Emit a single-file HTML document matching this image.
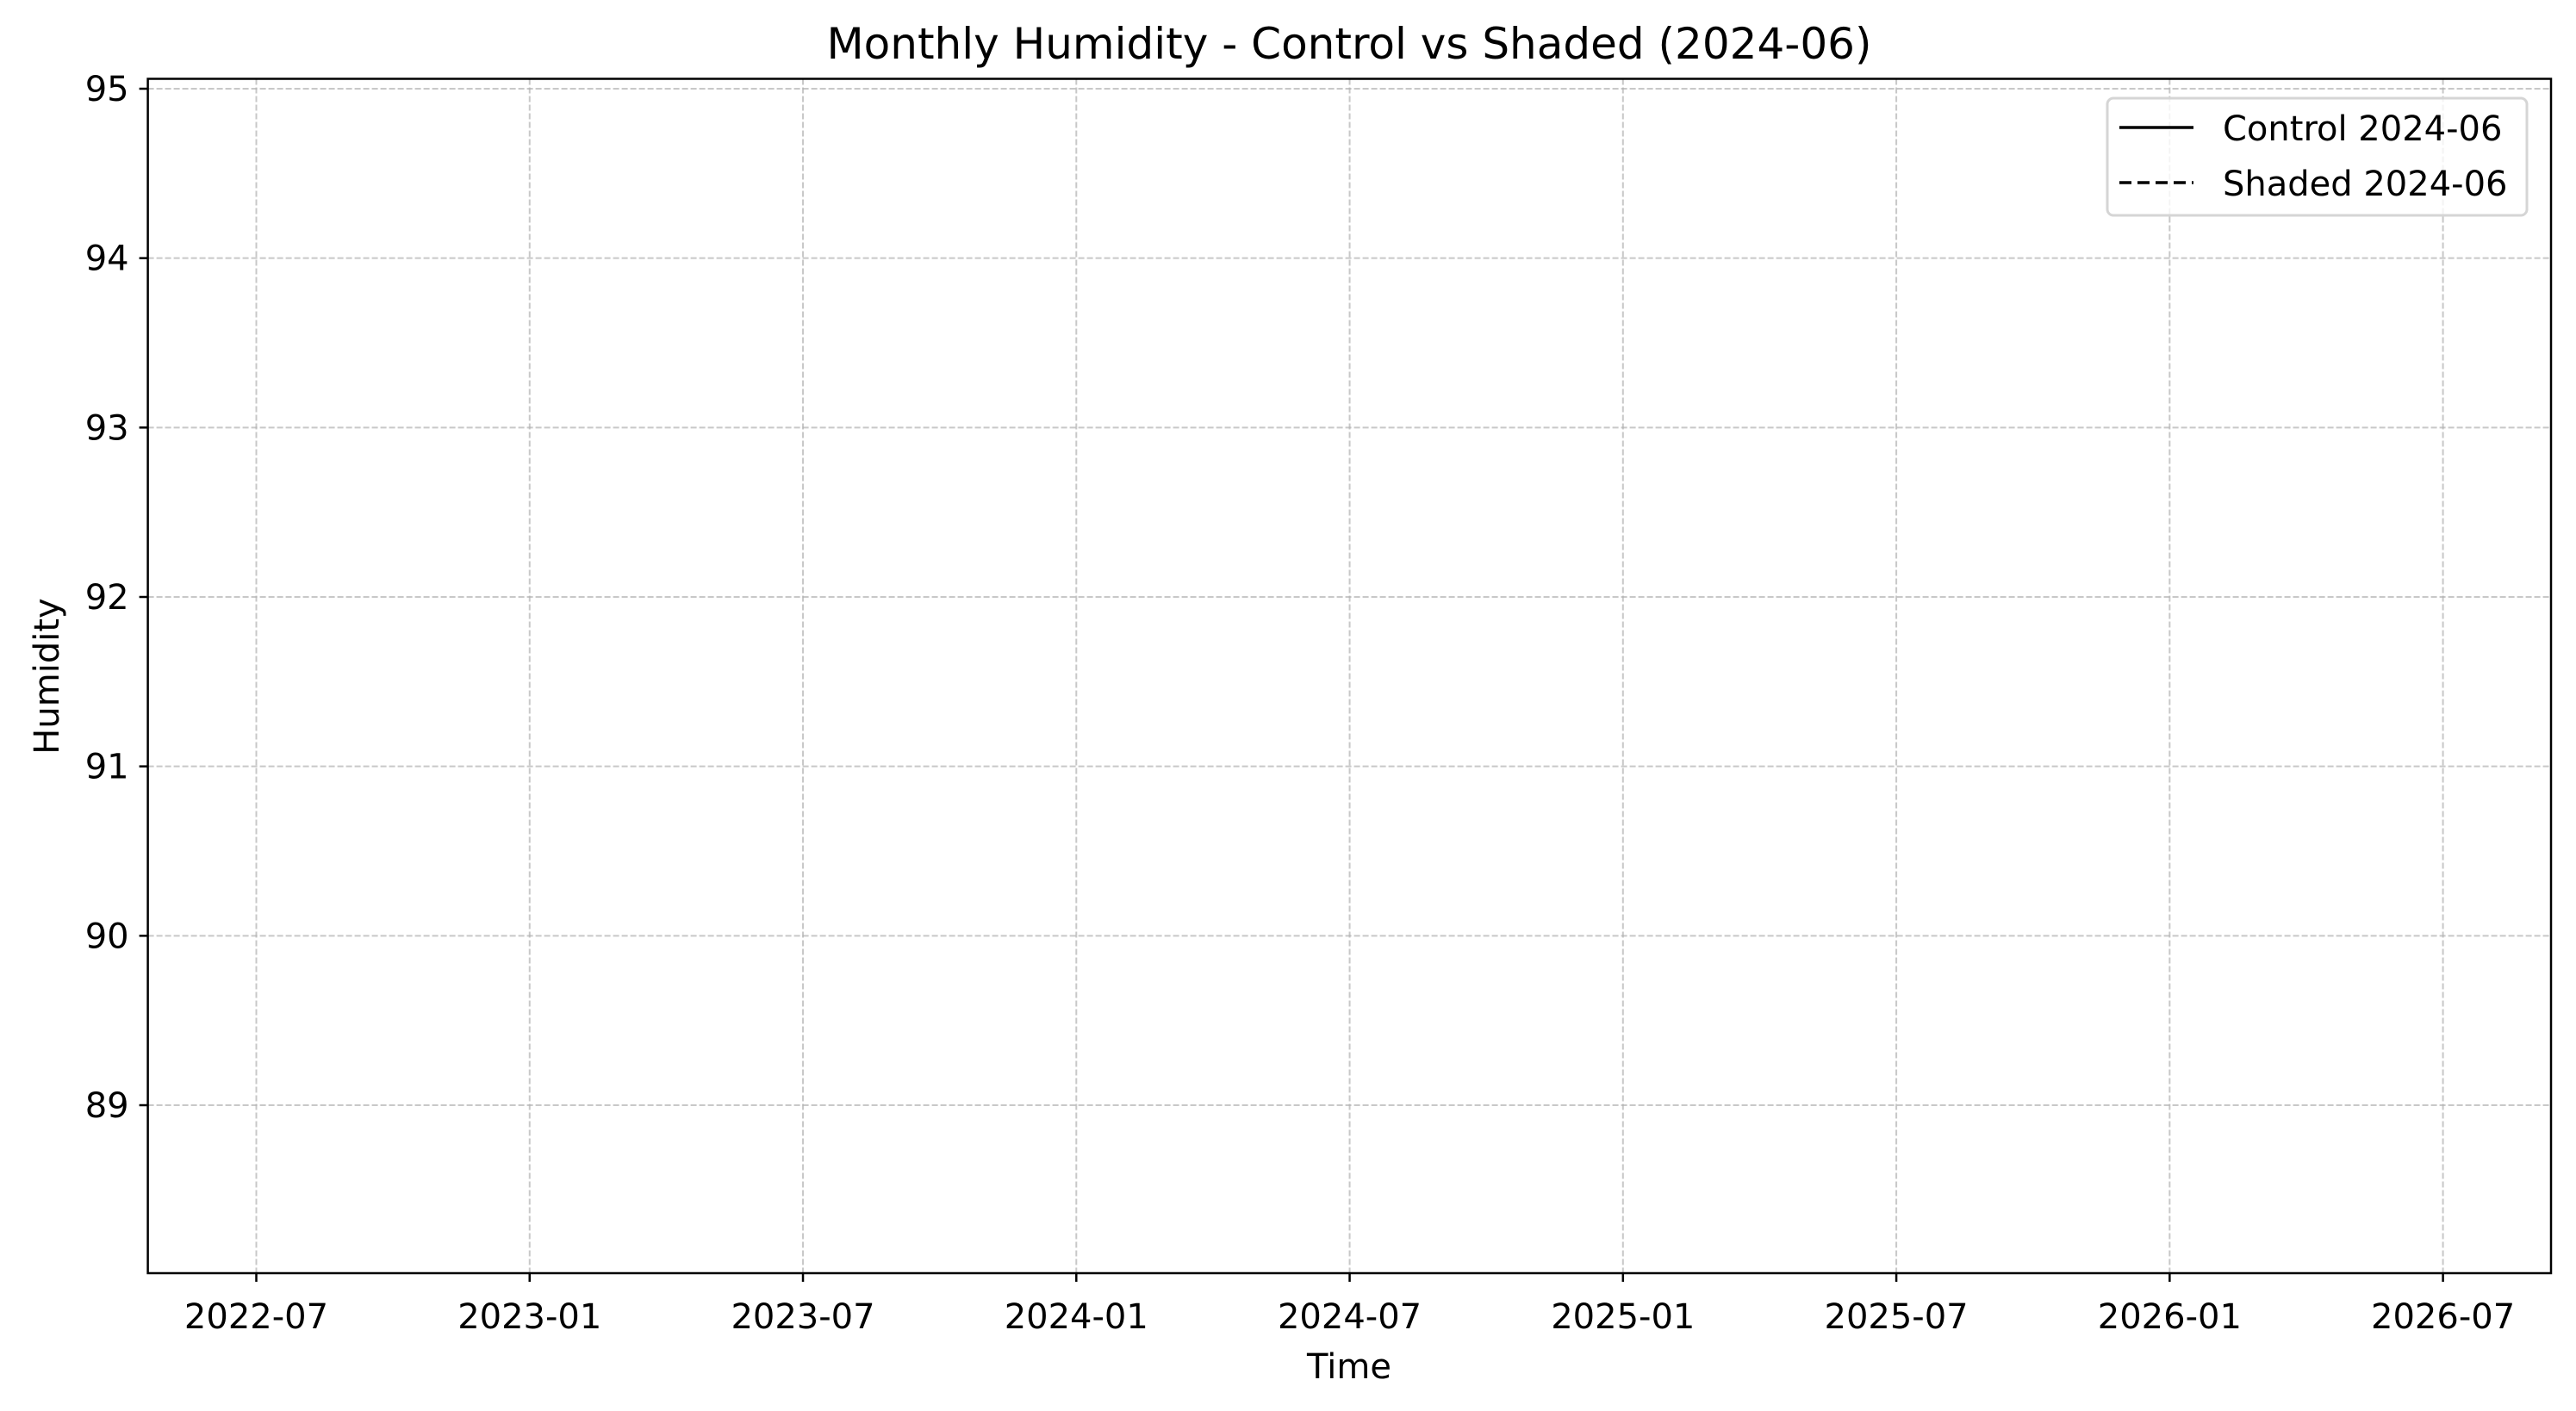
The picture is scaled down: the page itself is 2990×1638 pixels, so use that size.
<!DOCTYPE html>
<html><head><meta charset="utf-8"><style>
html,body{margin:0;padding:0;background:#fff;}
svg{display:block;font-family:"DejaVu Sans","Liberation Sans",sans-serif;}
</style></head><body>
<svg id="chart" width="2990" height="1638" viewBox="0 0 2990 1638" xmlns="http://www.w3.org/2000/svg">
<rect width="2990" height="1638" fill="#fff"/>
<g id="grid"></g>
<g id="series"></g>
<rect x="171.6" y="91.5" width="2789.4" height="1386.5" fill="none" stroke="#000" stroke-width="2.5"/>
<g id="ticks"></g>
<text x="1566" y="68" font-size="50" text-anchor="middle">Monthly Humidity - Control vs Shaded (2024-06)</text>
<text x="1566" y="1600" font-size="40" text-anchor="middle">Time</text>
<text transform="translate(68,785) rotate(-90)" font-size="40" text-anchor="middle">Humidity</text>
<g>
<rect x="2446" y="114" width="487" height="136" rx="7" fill="#fff" fill-opacity="0.8" stroke="#d5d5d5" stroke-width="3"/>
<line x1="2460" y1="148" x2="2546" y2="148" stroke="#000" stroke-width="3.5"/>
<text x="2580" y="163" font-size="40">Control 2024-06</text>
<line x1="2460" y1="212" x2="2546" y2="212" stroke="#000" stroke-width="3.5" stroke-dasharray="14,7"/>
<text x="2580" y="227" font-size="40">Shaded 2024-06</text>
</g>
</svg>
<script>
const xTickLabels=["2022-07","2023-01","2023-07","2024-01","2024-07","2025-01","2025-07","2026-01","2026-07"];
const yTickValues=[89,90,91,92,93,94,95];
const controlMonths=[];
const controlValues=[];
const shadedMonths=[];
const shadedValues=[];
const NS="http://www.w3.org/2000/svg";
const L=171.6,R=2961,T=91.5,B=1478;
function monthIndex(s){const p=s.split("-");return (+p[0])*12+(+p[1]-1);}
const m0=monthIndex("2022-07"),pxPerMonth=(2835.6-297.5)/48;
function xs(label){return 297.5+(monthIndex(label)-m0)*pxPerMonth;}
const yPer=(1283-103)/6;
function ys(v){return 1283-(v-89)*yPer;}
const grid=document.getElementById('grid'),ticks=document.getElementById('ticks'),series=document.getElementById('series');
function mk(tag,attrs,parent){const e=document.createElementNS(NS,tag);for(const k in attrs)e.setAttribute(k,attrs[k]);parent.appendChild(e);return e;}
xTickLabels.forEach(lab=>{
 const x=xs(lab);
 const g=mk('line',{x1:x,y1:T,x2:x,y2:B,stroke:'#b0b0b0','stroke-opacity':0.7,'stroke-width':2,'stroke-dasharray':'7,3'},grid);
 
 
 const t=mk('line',{x1:x,y1:B,x2:x,y2:B+10,stroke:'#000','stroke-width':2.5},ticks);
 
 
 const tx=mk('text',{x:x,y:1542,'font-size':40,'text-anchor':'middle'},ticks);
 tx.textContent=lab;
 
 
});
yTickValues.forEach(v=>{
 const y=ys(v);
 const g=mk('line',{x1:L,y1:y,x2:R,y2:y,stroke:'#b0b0b0','stroke-opacity':0.7,'stroke-width':2,'stroke-dasharray':'7,3'},grid);
 
 
 const t=mk('line',{x1:L-10,y1:y,x2:L,y2:y,stroke:'#000','stroke-width':2.5},ticks);
 
 
 const tx=mk('text',{x:L-22,y:y+14,'font-size':40,'text-anchor':'end'},ticks);
 tx.textContent=String(v);
 
 
});
function drawLine(months,vals,dash,name){
 if(!months.length)return;
 const pts=months.map((m,i)=>xs(m)+','+ys(vals[i])).join(' ');
 const p=mk('polyline',{points:pts,fill:'none',stroke:'#000','stroke-width':3.5},series);
 if(dash)p.setAttribute('stroke-dasharray',dash);
 
 
}
drawLine(controlMonths,controlValues,null,'control-line');
drawLine(shadedMonths,shadedValues,'14,7','shaded-line');
</script>
</body></html>
